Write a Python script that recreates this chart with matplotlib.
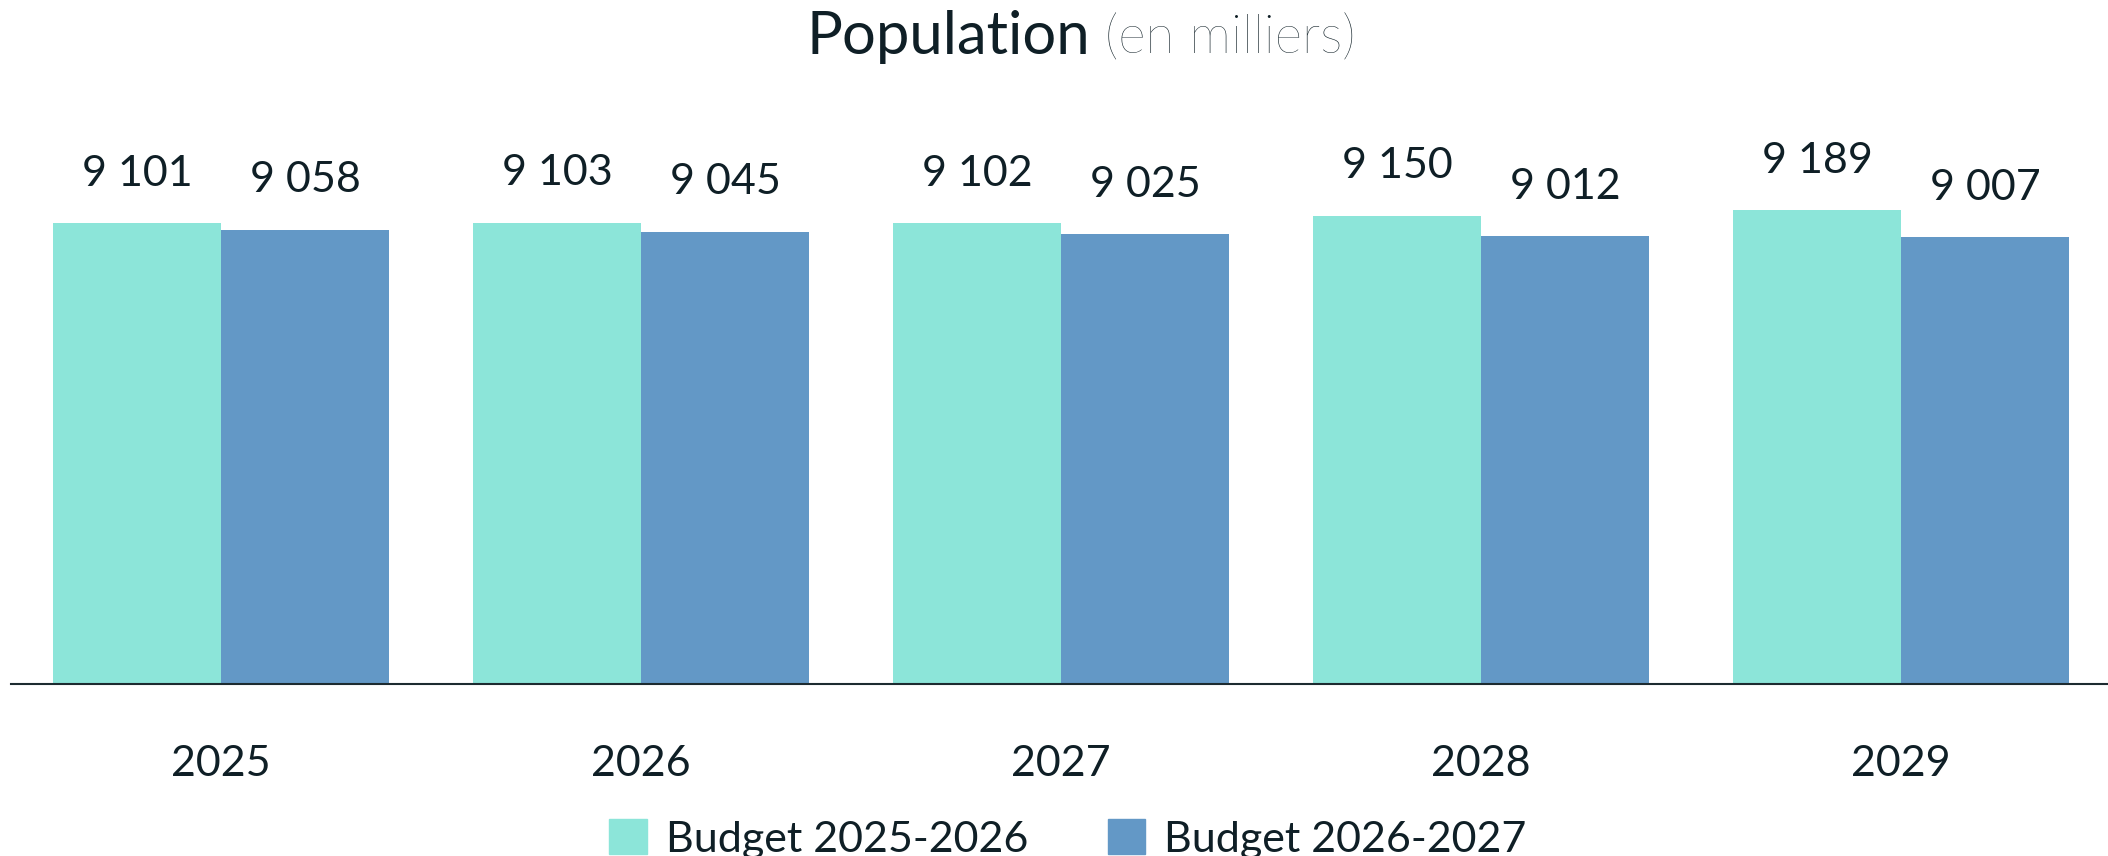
import numpy as np
import matplotlib
matplotlib.use('Agg')
import matplotlib.pyplot as plt
from matplotlib.patches import Patch

years = ['2025', '2026', '2027', '2028', '2029']
budget_2025 = [9101, 9103, 9102, 9150, 9189]
budget_2026 = [9058, 9045, 9025, 9012, 9007]
series_names = ['Budget 2025-2026', 'Budget 2026-2027']

teal = '#8ce5d9'
blue = '#6398c6'
ink = '#0f1f26'

plt.rcParams['font.family'] = ['Lato', 'DejaVu Sans']

W, H = 2108, 856
fig = plt.figure(figsize=(W / 100, H / 100), dpi=100)
ax = fig.add_axes([11 / W, 172 / H, (W - 11) / W, 594.4 / H])

x = np.arange(len(years))
w = 0.4
b1 = ax.bar(x - w / 2, np.array(budget_2025) - 6000, w, bottom=6000, color=teal, label=series_names[0])
b2 = ax.bar(x + w / 2, np.array(budget_2026) - 6000, w, bottom=6000, color=blue, label=series_names[1])

def fmt(v):
    return '{:,}'.format(v).replace(',', ' ')

for bars, vals in ((b1, budget_2025), (b2, budget_2026)):
    for r, v in zip(bars, vals):
        ax.annotate(fmt(v), (r.get_x() + r.get_width() / 2, v), xytext=(0, 27),
                    textcoords='offset points', ha='center', va='baseline',
                    fontsize=31, fontweight='normal', color=ink)

ax.set_xlim(-0.5, 4.493)
ax.set_ylim(6000, 10000)
for s in ('top', 'right', 'left'):
    ax.spines[s].set_visible(False)
ax.spines['bottom'].set_color('#1d2b30')
ax.spines['bottom'].set_linewidth(1.5)
ax.set_yticks([])
ax.set_xticks(x)
ax.set_xticklabels(years, fontsize=31, fontweight='normal', color=ink)
ax.tick_params(axis='x', length=0, pad=44)

# title: "Population" a bit heavier than the unit part
t1 = fig.text(806 / W, 1 - 37 / H, 'Population', fontsize=43, fontweight='normal',
              color=ink, ha='left', va='center')
ax.annotate(' (en milliers)', xy=(1, 0), xycoords=t1, ha='left', va='bottom',
            fontsize=38, fontweight='light', color=ink)

handles = [Patch(color=teal), Patch(color=blue)]
leg = fig.legend(handles, series_names, loc='center', bbox_to_anchor=(0.5065, 1 - 839 / H), ncol=2,
                 frameon=False, prop={'weight': 'normal', 'size': 31},
                 handlelength=0.88, handleheight=0.88, columnspacing=1.85, handletextpad=0.44)
for t in leg.get_texts():
    t.set_color(ink)

fig.savefig('out.png', dpi=100)
